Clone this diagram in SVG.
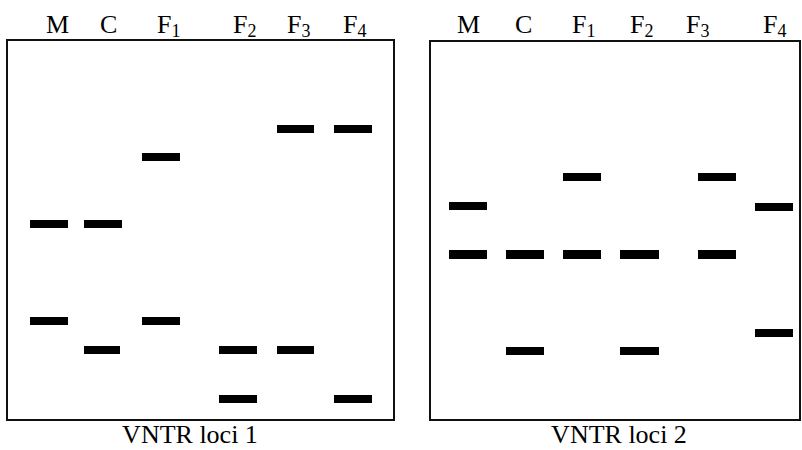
<svg xmlns="http://www.w3.org/2000/svg" width="802" height="450" viewBox="0 0 802 450">
<style>
.box{fill:#fff;stroke:#111;stroke-width:2}
.band{fill:#000}
.lbl{font-family:"Liberation Serif","Times New Roman",serif;font-size:26px;fill:#000}
.sub{font-size:18px}
.cap{font-family:"Liberation Serif","Times New Roman",serif;font-size:26px;fill:#000;text-anchor:middle}
</style>
<rect width="802" height="450" fill="#fff"/>
<g id="gel1">
<rect class="box" x="7" y="40" width="387" height="380"/>
<g class="lbl">
<text x="46" y="33">M</text>
<text x="100" y="33">C</text>
<text x="157" y="33">F<tspan class="sub" dy="4">1</tspan></text>
<text x="233" y="33">F<tspan class="sub" dy="4">2</tspan></text>
<text x="287" y="33">F<tspan class="sub" dy="4">3</tspan></text>
<text x="343" y="33">F<tspan class="sub" dy="4">4</tspan></text>
</g>
<rect class="band" x="277" y="125" width="37" height="8"/>
<rect class="band" x="334" y="125" width="38" height="8"/>
<rect class="band" x="142" y="153" width="38" height="8"/>
<rect class="band" x="30" y="220" width="38" height="8"/>
<rect class="band" x="84" y="220" width="38" height="8"/>
<rect class="band" x="30" y="317" width="38" height="8"/>
<rect class="band" x="142" y="317" width="38" height="8"/>
<rect class="band" x="84" y="346" width="36" height="8"/>
<rect class="band" x="219" y="346" width="38" height="8"/>
<rect class="band" x="277" y="346" width="37" height="8"/>
<rect class="band" x="219" y="395" width="38" height="8"/>
<rect class="band" x="334" y="395" width="38" height="8"/>
<text class="cap" x="190" y="443">VNTR loci 1</text>
</g>
<g id="gel2">
<rect class="box" x="430" y="41" width="370" height="379"/>
<g class="lbl">
<text x="457" y="33">M</text>
<text x="515" y="33">C</text>
<text x="572" y="33">F<tspan class="sub" dy="4">1</tspan></text>
<text x="630" y="33">F<tspan class="sub" dy="4">2</tspan></text>
<text x="686" y="33">F<tspan class="sub" dy="4">3</tspan></text>
<text x="763" y="33">F<tspan class="sub" dy="4">4</tspan></text>
</g>
<rect class="band" x="563" y="173" width="38" height="8"/>
<rect class="band" x="698" y="173" width="38" height="8"/>
<rect class="band" x="449" y="202" width="38" height="8"/>
<rect class="band" x="755" y="203" width="38" height="8"/>
<rect class="band" x="449" y="250" width="38" height="9"/>
<rect class="band" x="506" y="250" width="38" height="9"/>
<rect class="band" x="563" y="250" width="38" height="9"/>
<rect class="band" x="620" y="250" width="39" height="9"/>
<rect class="band" x="698" y="250" width="38" height="9"/>
<rect class="band" x="755" y="329" width="38" height="8"/>
<rect class="band" x="506" y="347" width="38" height="8"/>
<rect class="band" x="620" y="347" width="39" height="8"/>
<text class="cap" x="619" y="443">VNTR loci 2</text>
</g>
</svg>
